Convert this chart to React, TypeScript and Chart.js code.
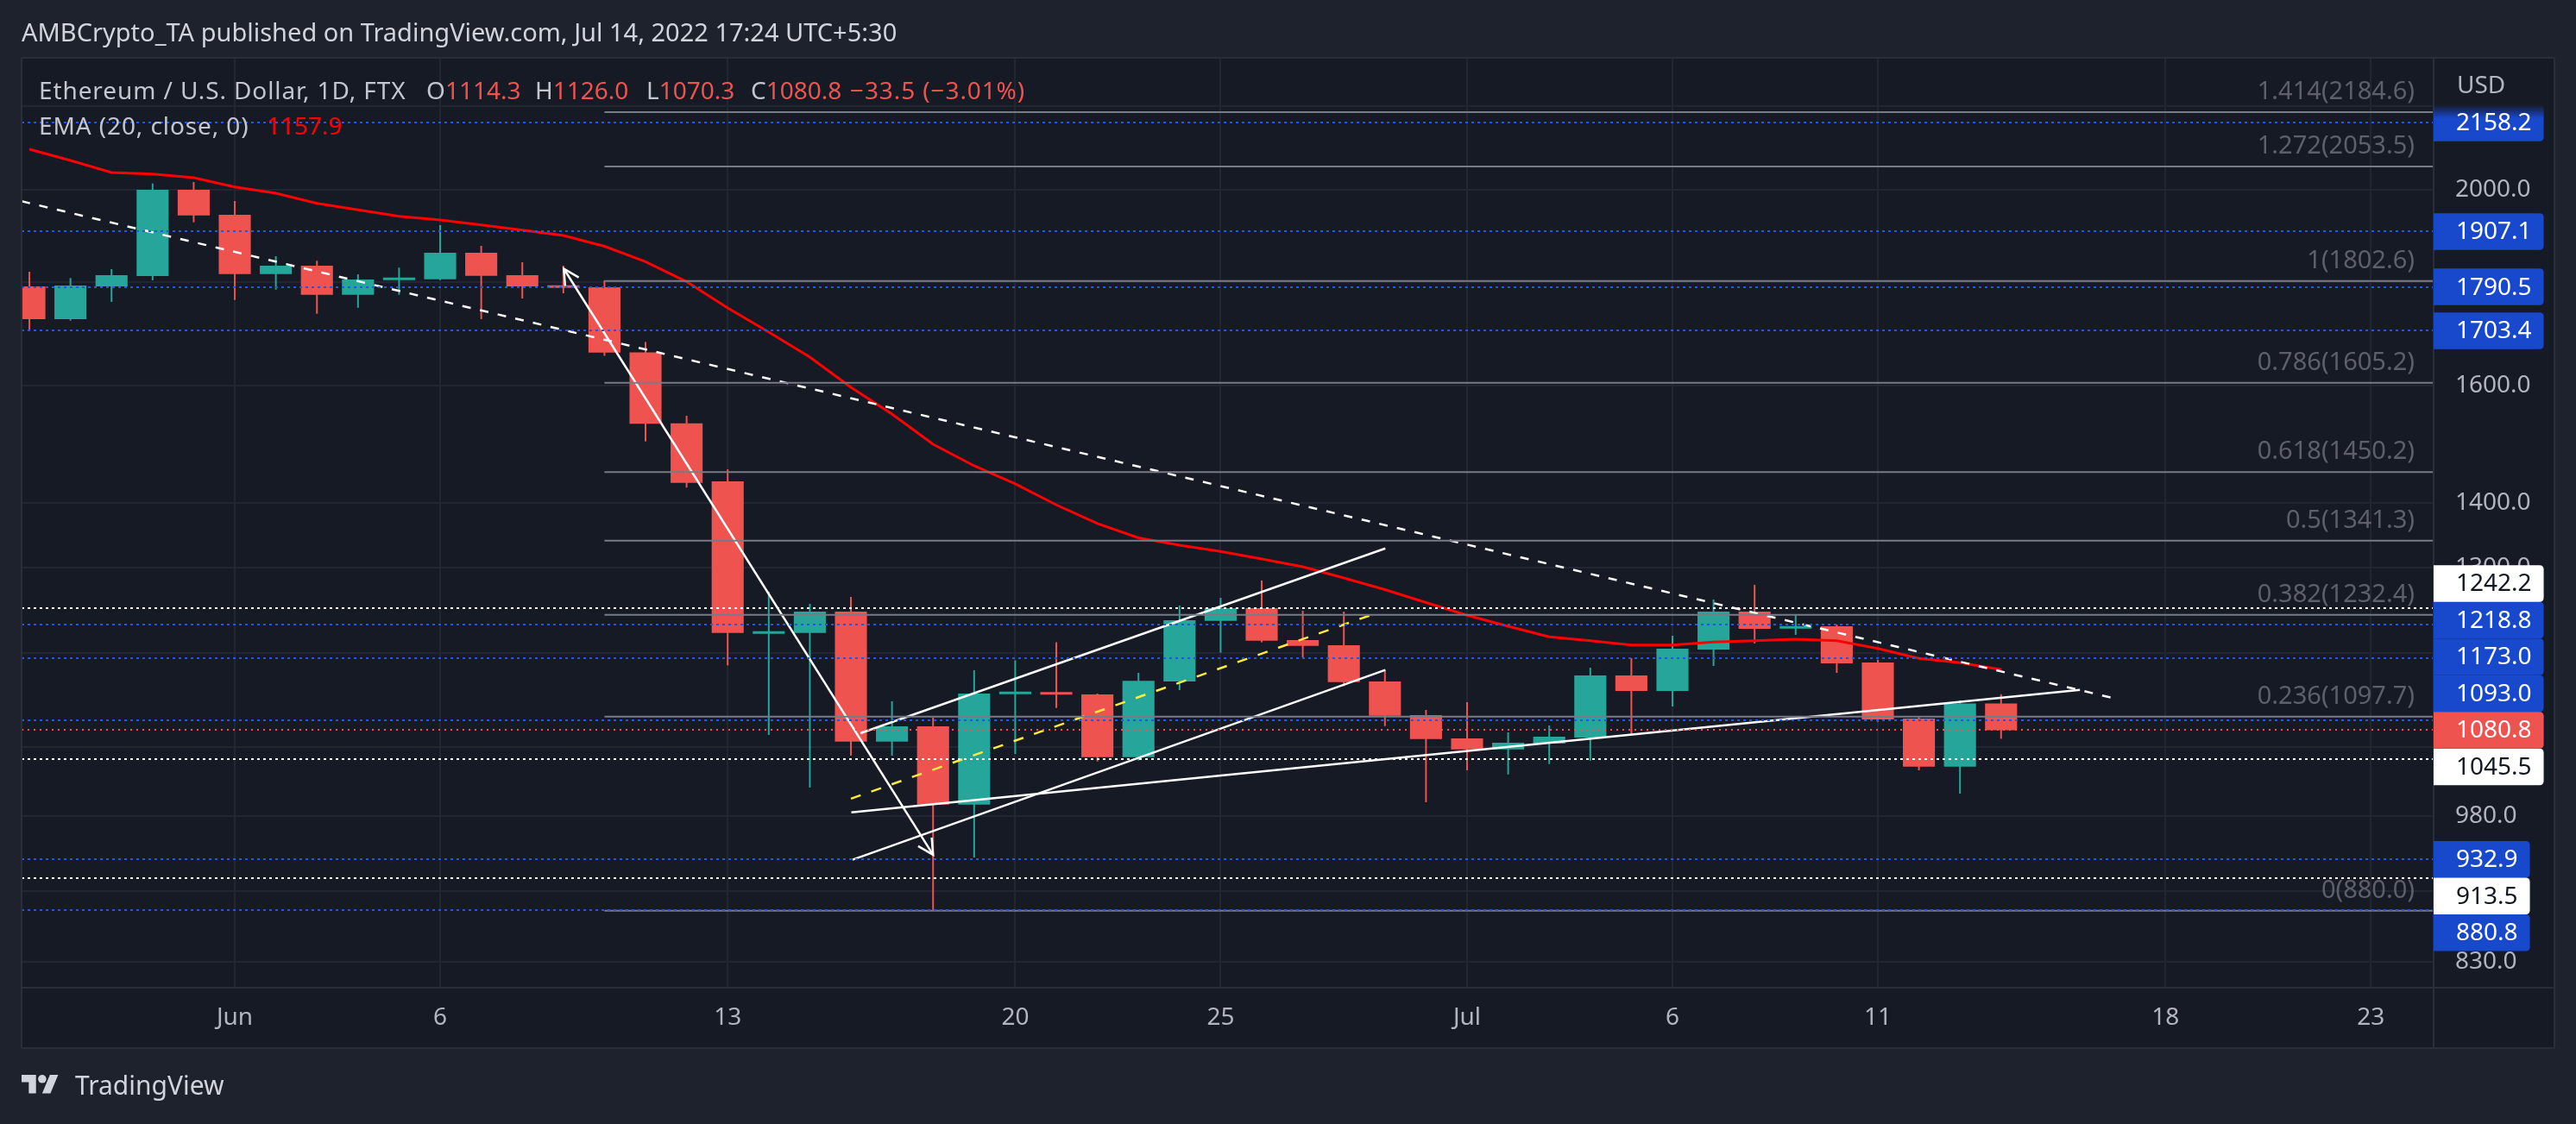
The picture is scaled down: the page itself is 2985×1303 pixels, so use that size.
import React, { useEffect, useRef } from 'react';
import { Chart, registerables } from 'chart.js';

Chart.register(...registerables);

// ---------------- data ----------------
const dates = [
  '2022-05-27', '2022-05-28', '2022-05-29', '2022-05-30', '2022-05-31',
  '2022-06-01', '2022-06-02', '2022-06-03', '2022-06-04', '2022-06-05', '2022-06-06', '2022-06-07',
  '2022-06-08', '2022-06-09', '2022-06-10', '2022-06-11', '2022-06-12', '2022-06-13', '2022-06-14',
  '2022-06-15', '2022-06-16', '2022-06-17', '2022-06-18', '2022-06-19', '2022-06-20', '2022-06-21',
  '2022-06-22', '2022-06-23', '2022-06-24', '2022-06-25', '2022-06-26', '2022-06-27', '2022-06-28',
  '2022-06-29', '2022-06-30', '2022-07-01', '2022-07-02', '2022-07-03', '2022-07-04', '2022-07-05',
  '2022-07-06', '2022-07-07', '2022-07-08', '2022-07-09', '2022-07-10', '2022-07-11', '2022-07-12',
  '2022-07-13', '2022-07-14',
];

const opens = [1791.6, 1725.9, 1791.6, 1812.8, 2000.0, 1943.8, 1817.0, 1834.3, 1774.6, 1804.5, 1806.3, 1861.6, 1814.6, 1793.4, 1789.8, 1661.9, 1532.8, 1434.9, 1206.3, 1207.4, 1237.1, 1066.9, 1085.6, 993.1, 1126.0, 1128.3, 1125.8, 1048.1, 1142.5, 1224.2, 1242.0, 1197.7, 1190.6, 1142.5, 1099.5, 1070.8, 1057.5, 1064.5, 1071.8, 1150.3, 1130.2, 1184.8, 1237.1, 1213.4, 1216.6, 1167.4, 1095.2, 1036.9, 1114.3];
const highs = [1821.8, 1808.7, 1827.1, 2014.4, 2017.7, 1974.6, 1854.3, 1844.6, 1816.4, 1830.2, 1921.0, 1876.2, 1841.6, 1834.3, 1804.0, 1681.8, 1546.2, 1454.8, 1265.4, 1248.1, 1258.0, 1117.0, 1096.3, 1157.2, 1170.2, 1194.6, 1126.9, 1153.7, 1245.7, 1256.7, 1281.7, 1238.3, 1237.1, 1157.5, 1106.0, 1115.9, 1078.2, 1086.6, 1160.5, 1173.2, 1203.5, 1254.2, 1275.4, 1233.5, 1219.0, 1170.9, 1097.7, 1118.1, 1126.0];
const lows = [1704.0, 1723.1, 1760.2, 1804.0, 1927.2, 1764.2, 1785.1, 1736.7, 1748.6, 1774.6, 1804.5, 1725.9, 1767.1, 1777.6, 1655.4, 1501.7, 1424.7, 1163.5, 1075.0, 1012.5, 1049.9, 1049.9, 880.8, 935.0, 1052.0, 1108.5, 1043.0, 1044.0, 1131.3, 1180.5, 1194.6, 1174.3, 1136.5, 1085.9, 995.7, 1032.5, 1027.7, 1040.0, 1044.0, 1076.3, 1110.4, 1162.8, 1193.0, 1204.7, 1153.7, 1091.2, 1032.5, 1005.5, 1070.3];
const closes = [1725.9, 1793.4, 1814.6, 2000.0, 1942.4, 1817.0, 1834.3, 1774.6, 1805.7, 1807.5, 1861.6, 1813.4, 1791.6, 1788.6, 1661.6, 1532.1, 1432.6, 1207.4, 1209.5, 1237.1, 1066.9, 1085.6, 993.1, 1126.9, 1128.0, 1125.4, 1048.1, 1143.3, 1225.0, 1242.0, 1196.8, 1189.8, 1141.6, 1098.7, 1070.0, 1057.5, 1065.5, 1072.9, 1150.3, 1130.2, 1185.9, 1237.1, 1213.0, 1216.6, 1166.3, 1094.1, 1036.9, 1114.3, 1080.8];
const ema20 = [2094.5, 2067.9, 2039.6, 2036.2, 2027.7, 2006.5, 1992.1, 1969.3, 1954.7, 1940.5, 1932.4, 1921.6, 1910.3, 1898.5, 1875.3, 1842.5, 1801.1, 1748.1, 1700.7, 1652.9, 1597.1, 1549.2, 1496.8, 1460.5, 1430.7, 1397.0, 1367.5, 1345.5, 1334.3, 1324.8, 1313.5, 1301.9, 1285.4, 1268.5, 1249.9, 1231.9, 1216.6, 1202.0, 1196.8, 1191.0, 1191.0, 1194.9, 1196.8, 1198.8, 1196.8, 1186.3, 1172.9, 1167.1, 1157.9];

// time axis (days counted from 2022-06-01)
const timeTickDays = [0, 5, 12, 19, 24, 30, 35, 40, 47, 52];
const timeTickLabels = ['Jun', '6', '13', '20', '25', 'Jul', '6', '11', '18', '23'];
const xRange = [-5.19, 53.53];

// price axis
const priceRange = [806.1, 2324.3];
const priceGridTicks = [830, 900, 980, 1060, 1180, 1300, 1400, 1600, 1800, 2000, 2200];
const priceTickLabels = [830, 980, 1300, 1400, 1600, 2000];

// fibonacci retracement
const fibRatios = ['1.414', '1.272', '1', '0.786', '0.618', '0.5', '0.382', '0.236', '0'];
const fibPrices = [2184.6, 2053.5, 1802.6, 1605.2, 1450.2, 1341.3, 1232.4, 1097.7, 880.0];
const fibStartDay = 9;

// horizontal levels
const blueLevels = [2158.2, 1907.1, 1790.5, 1703.4, 1218.8, 1173.0, 1093.0, 932.9, 880.8];
const whiteLevels = [1242.2, 1045.5, 913.5];

// trend lines (x in days from 2022-06-01, y price)
const downTrendX = [-5.19, 45.88];
const downTrendY = [1974.0, 1119.2];
const arrowX = [8.01, 17.0];
const arrowY = [1828.0, 937.8];
const channelUpX = [15.23, 28.01];
const channelUpY = [1077.1, 1329.4];
const channelLowX = [15.04, 28.01];
const channelLowY = [932.6, 1157.5];
const wedgeBaseX = [15.01, 44.92];
const wedgeBaseY = [984.3, 1131.5];
const yellowX = [15.0, 27.84];
const yellowY = [999.7, 1235.9];

// ---------------- style ----------------
const W = 2985;
const H = 1303;
const UP = '#26a69a';
const DOWN = '#ef5350';
const OUTER_BG = '#1e222d';
const PANE_BG = '#161a25';
const BORDER = '#2a2e39';
const GRID = '#222632';
const AXIS_TEXT = '#b2b5be';
const BOX_BLUE = '#1848cc';
const DOT_BLUE = '#2357e0';
const FONT = "'Noto Sans', sans-serif";
const PANEL_RIGHT = 2960;
const TIME_BOTTOM = 1215;

const dayIndex = (d: string) => Math.round((Date.parse(d + 'T00:00:00Z') - Date.parse('2022-06-01T00:00:00Z')) / 86400000);
const xs = dates.map(dayIndex);
const candleColors = closes.map((c, i) => (c >= opens[i] ? UP : DOWN));
const pts = (X: number[], Y: number[]) => X.map((x, i) => ({ x, y: Y[i] }));

function arrowHead(ctx: CanvasRenderingContext2D, tx: number, ty: number, fx: number, fy: number) {
  const a = Math.atan2(ty - fy, tx - fx);
  const len = 20;
  const ang = Math.PI / 6.5;
  ctx.beginPath();
  ctx.moveTo(tx - len * Math.cos(a - ang), ty - len * Math.sin(a - ang));
  ctx.lineTo(tx, ty);
  ctx.lineTo(tx - len * Math.cos(a + ang), ty - len * Math.sin(a + ang));
  ctx.stroke();
}

const decor = {
  id: 'tvDecor',
  beforeDraw(chart: any) {
    const ctx = chart.ctx;
    const ca = chart.chartArea;
    ctx.save();
    ctx.fillStyle = OUTER_BG;
    ctx.fillRect(0, 0, W, H);
    ctx.fillStyle = PANE_BG;
    ctx.fillRect(ca.left, ca.top, PANEL_RIGHT - ca.left, TIME_BOTTOM - ca.top);
    ctx.restore();
  },
  afterDatasetsDraw(chart: any) {
    const ctx = chart.ctx;
    const ca = chart.chartArea;
    const xS = chart.scales.x;
    const yS = chart.scales.y;
    ctx.save();
    ctx.beginPath();
    ctx.rect(ca.left, ca.top, ca.right - ca.left, ca.bottom - ca.top);
    ctx.clip();

    // fib lines + labels
    const fx0 = xS.getPixelForValue(fibStartDay);
    ctx.font = `29px ${FONT}`;
    ctx.textAlign = 'right';
    ctx.textBaseline = 'alphabetic';
    fibPrices.forEach((p, i) => {
      const y = yS.getPixelForValue(p);
      ctx.strokeStyle = '#787b86';
      ctx.lineWidth = 2;
      ctx.setLineDash([]);
      ctx.beginPath();
      ctx.moveTo(fx0, y);
      ctx.lineTo(ca.right, y);
      ctx.stroke();
      ctx.fillStyle = '#5d606b';
      ctx.fillText(`${fibRatios[i]}(${p.toFixed(1)})`, ca.right - 22, y - 15);
    });

    const dotted = (p: number, color: string, dash: number[]) => {
      const y = Math.round(yS.getPixelForValue(p));
      ctx.strokeStyle = color;
      ctx.lineWidth = 2;
      ctx.setLineDash(dash);
      ctx.beginPath();
      ctx.moveTo(ca.left, y);
      ctx.lineTo(ca.right, y);
      ctx.stroke();
    };
    blueLevels.forEach((p) => dotted(p, DOT_BLUE, [3, 4]));
    whiteLevels.forEach((p) => dotted(p, '#ffffff', [3, 4]));
    dotted(closes[closes.length - 1], DOWN, [2, 5]);
    ctx.setLineDash([]);

    // arrow heads on the measure arrow
    const arrowMeta = chart.getDatasetMeta(4);
    if (arrowMeta && arrowMeta.data.length === 2) {
      const a = arrowMeta.data[0];
      const b = arrowMeta.data[1];
      ctx.strokeStyle = '#ffffff';
      ctx.lineWidth = 2.5;
      arrowHead(ctx, a.x, a.y, b.x, b.y);
      arrowHead(ctx, b.x, b.y, a.x, a.y);
    }
    ctx.restore();
  },
  afterDraw(chart: any) {
    const ctx = chart.ctx;
    const ca = chart.chartArea;
    const yS = chart.scales.y;
    ctx.save();
    // frame
    ctx.strokeStyle = BORDER;
    ctx.lineWidth = 2;
    ctx.setLineDash([]);
    ctx.beginPath();
    [ca.top, ca.bottom, TIME_BOTTOM].forEach((y) => {
      ctx.moveTo(ca.left, y);
      ctx.lineTo(PANEL_RIGHT, y);
    });
    [ca.left, ca.right, PANEL_RIGHT].forEach((x) => {
      ctx.moveTo(x, ca.top);
      ctx.lineTo(x, TIME_BOTTOM);
    });
    ctx.stroke();

    // USD label
    ctx.font = `28px ${FONT}`;
    ctx.fillStyle = AXIS_TEXT;
    ctx.textAlign = 'left';
    ctx.textBaseline = 'middle';
    ctx.fillText('USD', ca.right + 27, ca.top + 33);

    // price axis labels
    const BH = 42.5;
    const last = closes[closes.length - 1];
    const priceY = yS.getPixelForValue(last);
    type Item = { v: number; bg: string; fg: string; desired: number; y: number };
    const items: Item[] = [];
    blueLevels.forEach((v) => items.push({ v, bg: BOX_BLUE, fg: '#ffffff', desired: yS.getPixelForValue(v), y: 0 }));
    whiteLevels.forEach((v) => items.push({ v, bg: '#ffffff', fg: '#131722', desired: yS.getPixelForValue(v), y: 0 }));
    const above = items.filter((it) => it.desired < priceY).sort((a, b) => b.desired - a.desired);
    let prev = priceY;
    above.forEach((it) => { it.y = Math.min(it.desired, prev - BH); prev = it.y; });
    const below = items.filter((it) => it.desired >= priceY).sort((a, b) => a.desired - b.desired);
    prev = priceY;
    below.forEach((it) => { it.y = Math.max(it.desired, prev + BH); prev = it.y; });
    items.push({ v: last, bg: DOWN, fg: '#ffffff', desired: priceY, y: priceY });

    items.forEach((it) => {
      const text = it.v.toFixed(1);
      const tw = ctx.measureText(text).width;
      const x0 = ca.right;
      const tx = ca.right + 26;
      const x1 = tx + tw + 14;
      const top = it.y - BH / 2;
      const r = 5;
      let fill: any = it.bg;
      if (top < ca.top + 70) {
        const g = ctx.createLinearGradient(0, top, 0, top + 16);
        g.addColorStop(0, 'rgba(24,72,204,0)');
        g.addColorStop(1, it.bg);
        fill = g;
      }
      ctx.fillStyle = fill;
      ctx.beginPath();
      ctx.moveTo(x0, top);
      ctx.lineTo(x1 - r, top);
      ctx.quadraticCurveTo(x1, top, x1, top + r);
      ctx.lineTo(x1, top + BH - r);
      ctx.quadraticCurveTo(x1, top + BH, x1 - r, top + BH);
      ctx.lineTo(x0, top + BH);
      ctx.closePath();
      ctx.fill();
      ctx.fillStyle = it.fg;
      ctx.fillText(text, tx, it.y + 1);
    });
    ctx.restore();
  },
};

export default function App() {
  const ref = useRef<HTMLCanvasElement | null>(null);

  useEffect(() => {
    const canvas = ref.current;
    if (!canvas) return;
    Chart.defaults.font.family = FONT;
    const lineDs = (label: string, X: number[], Y: number[], color: string, dash: number[] = [], width = 2.5) => ({
      type: 'line' as const,
      label,
      data: pts(X, Y),
      borderColor: color,
      borderWidth: width,
      borderDash: dash,
      pointRadius: 0,
      tension: 0,
      order: 0,
    });
    const chart = new Chart(canvas, {
      type: 'bar',
      data: {
        datasets: [
          {
            type: 'bar',
            label: 'body',
            data: xs.map((x, i) => ({ x, y: [opens[i], closes[i]] })) as any,
            backgroundColor: candleColors,
            borderWidth: 0,
            grouped: false,
            categoryPercentage: 1,
            barPercentage: 0.78,
            minBarLength: 3,
            order: 2,
          } as any,
          {
            type: 'bar',
            label: 'wick',
            data: xs.map((x, i) => ({ x, y: [lows[i], highs[i]] })) as any,
            backgroundColor: candleColors,
            borderWidth: 0,
            grouped: false,
            maxBarThickness: 2,
            order: 3,
          } as any,
          {
            type: 'line',
            label: 'EMA (20, close, 0)',
            data: pts(xs, ema20),
            borderColor: '#ff0000',
            borderWidth: 3,
            pointRadius: 0,
            tension: 0,
            order: 1,
          } as any,
          lineDs('downtrend', downTrendX, downTrendY, '#ffffff', [10, 11]),
          lineDs('arrow', arrowX, arrowY, '#ffffff'),
          lineDs('channel upper', channelUpX, channelUpY, '#ffffff'),
          lineDs('channel lower', channelLowX, channelLowY, '#ffffff'),
          lineDs('wedge base', wedgeBaseX, wedgeBaseY, '#ffffff'),
          lineDs('yellow', yellowX, yellowY, '#ffeb3b', [12, 13]),
        ],
      },
      options: {
        responsive: false,
        animation: false,
        devicePixelRatio: 1,
        events: [],
        layout: { padding: { left: 25, top: 67, right: W - PANEL_RIGHT, bottom: H - TIME_BOTTOM } },
        plugins: { legend: { display: false }, tooltip: { enabled: false } },
        scales: {
          x: {
            type: 'linear',
            min: xRange[0],
            max: xRange[1],
            bounds: 'data',
            offset: false,
            grid: { color: GRID, lineWidth: 2, drawTicks: false, offset: false },
            border: { display: false },
            ticks: {
              color: AXIS_TEXT,
              font: { size: 28, family: FONT },
              padding: 18,
              maxRotation: 0,
              autoSkip: false,
              callback: (v: any) => {
                const k = timeTickDays.indexOf(Number(v));
                return k >= 0 ? timeTickLabels[k] : '';
              },
            },
            afterBuildTicks: (s: any) => { s.ticks = timeTickDays.map((value) => ({ value })); },
            afterFit: (s: any) => { s.height = TIME_BOTTOM - 1145; },
          },
          y: {
            type: 'logarithmic',
            position: 'right',
            min: priceRange[0],
            max: priceRange[1],
            bounds: 'data',
            grid: { color: GRID, lineWidth: 2, drawTicks: false },
            border: { display: false },
            ticks: {
              color: AXIS_TEXT,
              font: { size: 28, family: FONT },
              padding: 25,
              crossAlign: 'near',
              autoSkip: false,
              callback: (v: any) => (priceTickLabels.includes(Number(v)) ? Number(v).toFixed(1) : ''),
            },
            afterBuildTicks: (s: any) => { s.ticks = priceGridTicks.map((value) => ({ value })); },
            afterFit: (s: any) => { s.width = 140; },
          },
        },
      } as any,
      plugins: [decor],
    });
    return () => chart.destroy();
  }, []);

  const txt: React.CSSProperties = { position: 'absolute', whiteSpace: 'pre', lineHeight: 1, fontFamily: FONT };
  const leg: React.CSSProperties = { ...txt, fontSize: 28, letterSpacing: 0.9, color: '#c3c6ce' };
  const val: React.CSSProperties = { ...txt, fontSize: 28, color: '#c3c6ce' };
  const red = { color: DOWN };
  return (
    <div style={{ position: 'fixed', left: 0, top: 0, width: W, height: H, background: OUTER_BG, overflow: 'hidden' }}>
      <canvas ref={ref} width={W} height={H} style={{ position: 'absolute', left: 0, top: 0, width: W, height: H }} />
      <div style={{ ...txt, left: 25, top: 22, fontSize: 29, color: '#d1d4dc' }}>
        AMBCrypto_TA published on TradingView.com, Jul 14, 2022 17:24 UTC+5:30
      </div>
      <div style={{ ...leg, left: 45, top: 90 }}>Ethereum / U.S. Dollar, 1D, FTX</div>
      <div style={{ ...val, left: 494, top: 90 }}>O<span style={red}>{opens[opens.length - 1].toFixed(1)}</span></div>
      <div style={{ ...val, left: 620, top: 90 }}>H<span style={red}>{highs[highs.length - 1].toFixed(1)}</span></div>
      <div style={{ ...val, left: 749, top: 90 }}>L<span style={red}>{lows[lows.length - 1].toFixed(1)}</span></div>
      <div style={{ ...val, left: 870, top: 90 }}>C<span style={red}>{closes[closes.length - 1].toFixed(1)}</span></div>
      <div style={{ ...leg, left: 985, top: 90, ...red }}>−33.5 (−3.01%)</div>
      <div style={{ ...leg, left: 45, top: 131 }}>EMA (20, close, 0)</div>
      <div style={{ ...val, left: 309, top: 131, color: '#ff0000' }}>{ema20[ema20.length - 1].toFixed(1)}</div>
      <svg style={{ position: 'absolute', left: 25, top: 1241 }} width={43} height={34} viewBox="0 0 36 28">
        <path d="M14 22H7V11H0V4h14v18z" fill="#d1d4dc" />
        <path d="M28 22h-8l7.5-18h8L28 22z" fill="#d1d4dc" />
        <circle cx="20" cy="8" r="4" fill="#d1d4dc" />
      </svg>
      <div style={{ ...txt, left: 87, top: 1243, fontSize: 30, color: '#d1d4dc' }}>TradingView</div>
    </div>
  );
}
